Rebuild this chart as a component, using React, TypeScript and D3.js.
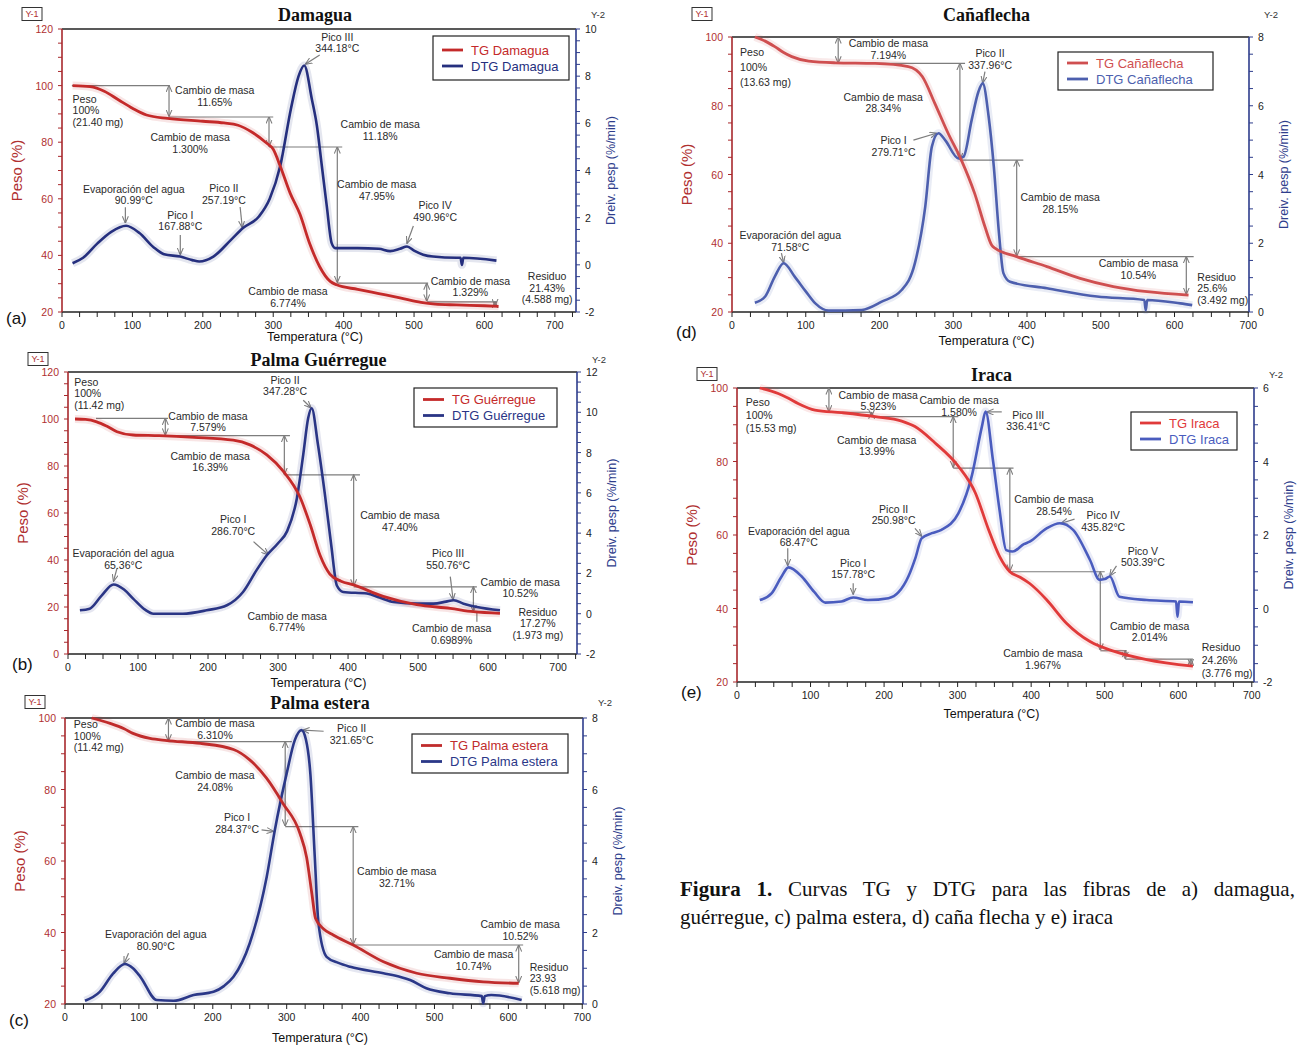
import * as d3 from "d3";

type Pt = [number, number];
type Seg = [number, number, number, number];
type Dim = [number, number, number];
type Note = { t: number; w: number; text: string[]; anchor?: "start" | "middle"; lh?: number };

// ---------- a) Damagua ----------
const damaguaTG: Pt[] = [
  [15, 100], [40, 99.6], [60, 98], [80, 95], [100, 92], [120, 89.6], [150, 88.4], [200, 87.4],
  [230, 86.8], [250, 86], [270, 83.5], [290, 79.8], [300, 77.5], [310, 71.5], [324, 62], [338, 54.5],
  [352, 44], [366, 36], [381, 30.8], [390, 29.6], [420, 28], [450, 26.5], [480, 25], [510, 23.4],
  [530, 22.8], [560, 22.5], [600, 22.2], [620, 22],
];
const damaguaDTG: Pt[] = [
  [15, 0.07], [30, 0.3], [50, 0.9], [70, 1.4], [91, 1.66], [110, 1.35], [130, 0.75], [145, 0.45],
  [168, 0.35], [185, 0.2], [195, 0.14], [215, 0.35], [240, 1.06], [257, 1.56], [280, 2.06], [295, 2.8],
  [310, 4.2], [325, 6.6], [336, 8.0], [344, 8.45], [355, 7.0], [362, 5.9], [369, 4.2], [376, 2.5],
  [383, 0.92], [388, 0.71], [420, 0.71], [450, 0.68], [466, 0.58], [480, 0.68], [490, 0.78], [500, 0.6],
  [513, 0.43], [527, 0.35], [560, 0.3], [566, 0.3], [568, 0.0], [570, 0.3], [617, 0.18],
];
const damaguaGuides: Seg[] = [
  [14, 100, 153, 100], [152, 88.9, 300, 88.9], [294, 78.3, 398, 78.3], [391, 30.2, 520, 30.2], [518, 23.6, 618, 23.6],
];
const damaguaDims: Dim[] = [[152, 100, 89.2], [294, 88.9, 78.6], [391, 78.3, 30.5], [518, 30.2, 23.9], [615, 23.6, 22.3]];
const damaguaPointers: Seg[] = [
  [90, 57, 90, 51.5], [168, 47.2, 168, 40.3], [253, 57.1, 256, 49.9], [366, 110.8, 346, 107.6], [499, 50.4, 490, 44.3],
];
const damaguaNotes: Note[] = [
  { t: 15, w: 95.3, text: ["Peso", "100%", "(21.40 mg)"], anchor: "start" },
  { t: 217, w: 98.4, text: ["Cambio de masa", "11.65%"] },
  { t: 182, w: 81.8, text: ["Cambio de masa", "1.300%"] },
  { t: 102, w: 63.5, text: ["Evaporación del agua", "90.99°C"] },
  { t: 168, w: 54.3, text: ["Pico I", "167.88°C"] },
  { t: 230, w: 63.8, text: ["Pico II", "257.19°C"] },
  { t: 391, w: 117.2, text: ["Pico III", "344.18°C"] },
  { t: 452, w: 86.4, text: ["Cambio de masa", "11.18%"] },
  { t: 447, w: 65.2, text: ["Cambio de masa", "47.95%"] },
  { t: 530, w: 57.8, text: ["Pico IV", "490.96°C"] },
  { t: 580, w: 31, text: ["Cambio de masa", "1.329%"] },
  { t: 689, w: 32.7, text: ["Residuo", "21.43%", "(4.588 mg)"] },
  { t: 321, w: 27.4, text: ["Cambio de masa", "6.774%"] },
];

// ---------- b) Palma Guérregue ----------
const guerregueTG: Pt[] = [
  [10, 100], [25, 99.8], [41, 98.8], [55, 97], [70, 94.6], [93, 93.2], [130, 92.9], [180, 92.2],
  [236, 91], [260, 89], [284, 84.7], [308, 77.6], [331, 67], [346, 55], [360, 42], [374, 34],
  [390, 31], [408, 29.4], [450, 24.5], [498, 21], [546, 19.4], [579, 18], [617, 17.3],
];
const guerregueDTG: Pt[] = [
  [17, 0.17], [31, 0.25], [48, 0.9], [65, 1.45], [80, 1.2], [93, 0.75], [110, 0.2], [122, 0],
  [164, 0], [198, 0.17], [227, 0.42], [250, 1.08], [270, 2.2], [284, 2.9], [300, 3.5], [313, 4.1],
  [327, 5.75], [336, 7.9], [343, 9.7], [348, 10.2], [357, 8.4], [367, 5.9], [376, 3.4], [384, 1.4],
  [393, 1.08], [427, 1.0], [445, 0.8], [465, 0.58], [500, 0.5], [522, 0.5], [540, 0.6], [551, 0.67],
  [565, 0.5], [584, 0.33], [617, 0.17],
];
const guerregueGuides: Seg[] = [
  [40, 100.3, 143, 100.3], [139, 92.9, 317, 92.9], [309, 76.2, 417, 76.2], [408, 28.6, 584, 28.6], [584, 18, 584, 13.7],
];
const guerregueDims: Dim[] = [[139, 100.3, 93.2], [309, 92.9, 76.5], [408, 76.2, 29], [579, 28.6, 18.2]];
const guerreguePointers: Seg[] = [[70, 36.5, 65, 31], [265, 47.8, 286, 42.3], [336, 108, 347, 104.8], [546, 32.9, 550, 23.2]];
const guerregueNotes: Note[] = [
  { t: 9, w: 115.9, text: ["Peso", "100%", "(11.42 mg)"], anchor: "start" },
  { t: 200, w: 101.4, text: ["Cambio de masa", "7.579%"] },
  { t: 203, w: 84.4, text: ["Cambio de masa", "16.39%"] },
  { t: 79, w: 42.8, text: ["Evaporación del agua", "65.36°C"] },
  { t: 236, w: 57.4, text: ["Pico I", "286.70°C"] },
  { t: 310, w: 116.6, text: ["Pico II", "347.28°C"] },
  { t: 474, w: 59.1, text: ["Cambio de masa", "47.40%"] },
  { t: 543, w: 42.8, text: ["Pico III", "550.76°C"] },
  { t: 646, w: 30.8, text: ["Cambio de masa", "10.52%"] },
  { t: 671, w: 18, text: ["Residuo", "17.27%", "(1.973 mg)"] },
  { t: 548, w: 10.9, text: ["Cambio de masa", "0.6989%"] },
  { t: 313, w: 16.3, text: ["Cambio de masa", "6.774%"] },
];

// ---------- c) Palma estera ----------
const esteraTG: Pt[] = [
  [36, 100], [61, 98.5], [80, 97], [92, 95.7], [115, 94.3], [138, 93.7], [183, 92.9], [228, 91.2],
  [250, 88.3], [273, 83.1], [295, 76.1], [318, 67.7], [327, 61], [334, 51], [339, 44], [350, 41],
  [363, 39.3], [390, 36.5], [431, 31.8], [476, 28.6], [521, 27.2], [566, 26.2], [614, 25.8],
];
const esteraDTG: Pt[] = [
  [27, 0.09], [47, 0.34], [65, 0.85], [81, 1.12], [92, 1.0], [102, 0.76], [124, 0.11], [147, 0.09],
  [174, 0.25], [201, 0.34], [215, 0.5], [228, 0.76], [250, 1.7], [273, 3.56], [284, 4.87], [300, 6.45],
  [311, 7.38], [320, 7.66], [326, 7.4], [332, 6.45], [338, 4.12], [343, 2.26], [354, 1.32], [370, 1.15],
  [386, 1.04], [431, 0.86], [455, 0.75], [467, 0.67], [489, 0.44], [521, 0.3], [564, 0.22], [566, 0.02],
  [568, 0.22], [577, 0.25], [618, 0.11],
];
const esteraGuides: Seg[] = [[140, 93.4, 307, 93.4], [298, 69.6, 397, 69.6], [390, 36.5, 620, 36.5]];
const esteraDims: Dim[] = [[140, 100, 93.6], [298, 93.4, 69.8], [390, 69.6, 36.7], [614, 36.5, 26]];
const esteraPointers: Seg[] = [[86, 34.2, 80, 31.4], [266, 68.7, 282, 68.3], [350, 96.3, 322, 96.6]];
const esteraNotes: Note[] = [
  { t: 12, w: 98.3, text: ["Peso", "100%", "(11.42 mg)"], anchor: "start" },
  { t: 203, w: 98.5, text: ["Cambio de masa", "6.310%"] },
  { t: 203, w: 84, text: ["Cambio de masa", "24.08%"] },
  { t: 233, w: 72.2, text: ["Pico I", "284.37°C"] },
  { t: 123, w: 39.5, text: ["Evaporación del agua", "80.90°C"] },
  { t: 388, w: 97.1, text: ["Pico II", "321.65°C"] },
  { t: 449, w: 57.2, text: ["Cambio de masa", "32.71%"] },
  { t: 616, w: 42.3, text: ["Cambio de masa", "10.52%"] },
  { t: 553, w: 33.9, text: ["Cambio de masa", "10.74%"] },
  { t: 629, w: 30.4, text: ["Residuo", "23.93", "(5.618 mg)"], anchor: "start" },
];

// ---------- d) Cañaflecha ----------
const canaTG: Pt[] = [
  [31, 100], [45, 98.8], [58, 97.2], [70, 95.5], [81, 94.3], [104, 93], [140, 92.5], [194, 92.3],
  [239, 91.4], [258, 88.5], [275, 80.7], [293, 72], [311, 64.2], [329, 54.5], [343, 44.8], [352, 39.5],
  [357, 38.5], [386, 36.1], [427, 33.2], [472, 29.8], [517, 27.4], [563, 25.9], [619, 24.9],
];
const canaDTG: Pt[] = [
  [31, 0.27], [45, 0.45], [58, 1.03], [70, 1.42], [85, 1.03], [100, 0.6], [113, 0.25], [131, 0.04],
  [176, 0.06], [203, 0.3], [230, 0.64], [248, 1.42], [262, 3.06], [271, 4.81], [280, 5.2], [289, 5.0],
  [307, 4.47], [314, 4.52], [325, 5.59], [334, 6.4], [340, 6.65], [348, 5.68], [355, 4.23], [362, 2.29],
  [368, 1.13], [377, 0.88], [427, 0.69], [495, 0.45], [559, 0.35], [561, 0.05], [563, 0.35], [608, 0.25],
  [624, 0.2],
];
const canaGuides: Seg[] = [[144, 92.3, 316, 92.3], [309, 64.2, 395, 64.2], [386, 36.1, 626, 36.1]];
const canaDims: Dim[] = [[144, 100, 92.5], [309, 92.3, 64.4], [386, 64.2, 36.3], [616, 36.1, 25.2]];
const canaPointers: Seg[] = [[67, 37.1, 70, 34.4], [246, 70, 277, 72], [343, 89.9, 340, 86.7]];
const canaNotes: Note[] = [
  { t: 11, w: 95.7, text: ["Peso", "100%", "(13.63 mg)"], anchor: "start", lh: 15 },
  { t: 212, w: 98.2, text: ["Cambio de masa", "7.194%"] },
  { t: 205, w: 82.6, text: ["Cambio de masa", "28.34%"] },
  { t: 219, w: 70, text: ["Pico I", "279.71°C"] },
  { t: 79, w: 42.4, text: ["Evaporación del agua", "71.58°C"] },
  { t: 350, w: 95.3, text: ["Pico II", "337.96°C"] },
  { t: 445, w: 53.4, text: ["Cambio de masa", "28.15%"] },
  { t: 551, w: 34.2, text: ["Cambio de masa", "10.54%"] },
  { t: 631, w: 30.3, text: ["Residuo", "25.6%", "(3.492 mg)"], anchor: "start" },
];

// ---------- e) Iraca ----------
const iracaTG: Pt[] = [
  [31, 100], [56, 98.5], [70, 97.2], [83, 95.8], [106, 94], [142, 93.3], [188, 92.2], [224, 91],
  [242, 89.5], [269, 85.1], [301, 78.7], [324, 71.5], [342, 61.5], [357, 54.2], [371, 50], [385, 48.5],
  [398, 46.8], [421, 42.4], [448, 36], [480, 31], [512, 28.4], [557, 26.1], [620, 24.3],
];
const iracaDTG: Pt[] = [
  [31, 0.23], [47, 0.41], [60, 0.85], [70, 1.12], [88, 0.87], [105, 0.45], [120, 0.16], [142, 0.19],
  [158, 0.3], [178, 0.23], [206, 0.28], [220, 0.45], [233, 0.87], [243, 1.4], [251, 1.91], [265, 2.05],
  [278, 2.14], [301, 2.59], [319, 3.59], [333, 4.95], [338, 5.36], [348, 4.04], [357, 2.68], [366, 1.59],
  [375, 1.55], [390, 1.75], [398, 1.82], [421, 2.18], [439, 2.32], [457, 2.14], [480, 1.32], [493, 0.78],
  [500, 0.8], [507, 0.87], [520, 0.32], [557, 0.23], [597, 0.19], [599, -0.22], [601, 0.19], [620, 0.17],
];
const iracaGuides: Seg[] = [
  [31, 100, 126, 100], [125, 93.4, 183, 93.4], [183, 92.2, 301, 92.2], [294, 78.2, 376, 78.2],
  [371, 50, 500, 50], [494, 28.5, 530, 28.5], [528, 26.2, 620, 26.2],
];
const iracaDims: Dim[] = [
  [125, 100, 93.6], [183, 93.4, 92.4], [294, 92.2, 78.4], [371, 78.2, 50.2], [494, 50, 28.7], [528, 28.5, 26.4], [617, 26.2, 24.6],
];
const iracaPointers: Seg[] = [
  [69, 56.4, 69, 51.7], [158, 46.9, 158, 43.9], [242, 61.8, 251, 59.7], [360, 93.5, 340, 93.5],
  [459, 64.3, 441, 63.2], [516, 51.6, 507, 48.9],
];
const iracaNotes: Note[] = [
  { t: 12, w: 96.3, text: ["Peso", "100%", "(15.53 mg)"], anchor: "start", lh: 13 },
  { t: 192, w: 98.1, text: ["Cambio de masa", "5.923%"] },
  { t: 302, w: 96.7, text: ["Cambio de masa", "1.580%"] },
  { t: 190, w: 85.9, text: ["Cambio de masa", "13.99%"] },
  { t: 84, w: 61.2, text: ["Evaporación del agua", "68.47°C"] },
  { t: 158, w: 52.5, text: ["Pico I", "157.78°C"] },
  { t: 213, w: 67.2, text: ["Pico II", "250.98°C"] },
  { t: 396, w: 92.7, text: ["Pico III", "336.41°C"] },
  { t: 431, w: 69.7, text: ["Cambio de masa", "28.54%"] },
  { t: 498, w: 65.4, text: ["Pico IV", "435.82°C"] },
  { t: 552, w: 55.7, text: ["Pico V", "503.39°C"] },
  { t: 561, w: 35.3, text: ["Cambio de masa", "2.014%"] },
  { t: 416, w: 27.8, text: ["Cambio de masa", "1.967%"] },
  { t: 632, w: 29.4, text: ["Residuo", "24.26%", "(3.776 mg)"], anchor: "start", lh: 13 },
];

const xTickValues = [0, 100, 200, 300, 400, 500, 600, 700];
const captionLines = [
  "Curvas TG y DTG para las fibras de a) damagua, b) palma",
  "guérregue, c) palma estera, d) caña flecha y e) iraca",
];

type PanelCfg = {
  title: string; letter: string; names: [string, string];
  left: number; right: number; top: number; bottom: number; xMax: number;
  wDom: [number, number]; dDom: [number, number];
  titleY: number; letterY: number; xLabelY: number; legend: [number, number, number, number];
  tgColor: string; dtgColor: string;
  tg: Pt[]; dtg: Pt[]; guides: Seg[]; dims: Dim[]; pointers: Seg[]; notes: Note[];
};

const panels: PanelCfg[] = [
  {
    title: "Damagua", letter: "(a)", names: ["TG Damagua", "DTG Damagua"],
    left: 62, right: 576, top: 29, bottom: 312, xMax: 730, wDom: [20, 120], dDom: [-2, 10],
    titleY: 15, letterY: 318, xLabelY: 337, legend: [433, 36, 136, 44],
    tgColor: "#c42a2a", dtgColor: "#252f7e",
    tg: damaguaTG, dtg: damaguaDTG, guides: damaguaGuides, dims: damaguaDims, pointers: damaguaPointers, notes: damaguaNotes,
  },
  {
    title: "Palma Guérregue", letter: "(b)", names: ["TG Guérregue", "DTG Guérregue"],
    left: 68, right: 577, top: 372, bottom: 654, xMax: 727, wDom: [0, 120], dDom: [-2, 12],
    titleY: 360, letterY: 664, xLabelY: 683, legend: [414, 388, 143, 39],
    tgColor: "#c42a2a", dtgColor: "#2a3585",
    tg: guerregueTG, dtg: guerregueDTG, guides: guerregueGuides, dims: guerregueDims, pointers: guerreguePointers, notes: guerregueNotes,
  },
  {
    title: "Palma estera", letter: "(c)", names: ["TG Palma estera", "DTG Palma estera"],
    left: 65, right: 583, top: 718, bottom: 1004, xMax: 701, wDom: [20, 100], dDom: [0, 8],
    titleY: 703, letterY: 1020, xLabelY: 1038, legend: [412, 734, 156, 39],
    tgColor: "#c02c2c", dtgColor: "#2b3888",
    tg: esteraTG, dtg: esteraDTG, guides: esteraGuides, dims: esteraDims, pointers: esteraPointers, notes: esteraNotes,
  },
  {
    title: "Cañaflecha", letter: "(d)", names: ["TG Cañaflecha", "DTG Cañaflecha"],
    left: 732, right: 1249, top: 37, bottom: 312, xMax: 701, wDom: [20, 100], dDom: [0, 8],
    titleY: 15, letterY: 332, xLabelY: 341, legend: [1058, 52, 155, 38],
    tgColor: "#cf4f50", dtgColor: "#4d5fae",
    tg: canaTG, dtg: canaDTG, guides: canaGuides, dims: canaDims, pointers: canaPointers, notes: canaNotes,
  },
  {
    title: "Iraca", letter: "(e)", names: ["TG Iraca", "DTG Iraca"],
    left: 737, right: 1254, top: 388, bottom: 682, xMax: 703, wDom: [20, 100], dDom: [-2, 6],
    titleY: 375, letterY: 692, xLabelY: 714, legend: [1131, 412, 106, 38],
    tgColor: "#e03a3a", dtgColor: "#4a5cbe",
    tg: iracaTG, dtg: iracaDTG, guides: iracaGuides, dims: iracaDims, pointers: iracaPointers, notes: iracaNotes,
  },
];

const SANS = "'Liberation Sans', Arial, Helvetica, sans-serif";
const SERIF = "'Liberation Serif', 'Times New Roman', serif";
const LEFT_AXIS = "#a8282c";
const RIGHT_AXIS = "#2e3d8c";
const GREY = "#7d7d7d";

function Panel({ p }: { p: PanelCfg }) {
  const x = d3.scaleLinear().domain([0, p.xMax]).range([p.left, p.right]);
  const yW = d3.scaleLinear().domain(p.wDom).range([p.bottom, p.top]);
  const yD = d3.scaleLinear().domain(p.dDom).range([p.bottom, p.top]);
  const tgPath = d3.line<Pt>().x(d => x(d[0])).y(d => yW(d[1])).curve(d3.curveMonotoneX)(p.tg) || "";
  const dtgPath = d3.line<Pt>().x(d => x(d[0])).y(d => yD(d[1])).curve(d3.curveMonotoneX)(p.dtg) || "";
  const cx = (p.left + p.right) / 2;
  const cy = (p.top + p.bottom) / 2;

  const xMinor = d3.range(0, p.xMax + 0.01, 25);
  const wMajor = d3.range(p.wDom[0], p.wDom[1] + 0.01, 20);
  const wMinor = d3.range(p.wDom[0], p.wDom[1] + 0.01, 5);
  const dMajor = d3.range(p.dDom[0], p.dDom[1] + 0.01, 2);
  const dMinor = d3.range(p.dDom[0], p.dDom[1] + 0.01, 0.5);
  const [lx, ly, lw, lh] = p.legend;

  return (
    <g>
      {/* header */}
      <text x={cx - 4} y={p.titleY} textAnchor="middle" dominantBaseline="central"
        fontFamily={SERIF} fontWeight="bold" fontSize={18} fill="#111">{p.title}</text>
      <rect x={p.left - 40} y={p.titleY - 7.5} width={20} height={13} fill="none" stroke="#333" strokeWidth={1} />
      <text x={p.left - 30} y={p.titleY - 1} textAnchor="middle" dominantBaseline="central"
        fontFamily={SANS} fontSize={9} fill="#b03030">Y-1</text>
      <text x={p.right + 22} y={p.titleY - 1} textAnchor="middle" dominantBaseline="central"
        fontFamily={SANS} fontSize={9.5} fill="#333">Y-2</text>

      {/* axis titles */}
      <text transform={`translate(${p.left - 46},${cy}) rotate(-90)`} textAnchor="middle" dominantBaseline="central"
        fontFamily={SANS} fontSize={15} fill="#b03030">Peso (%)</text>
      <text transform={`translate(${p.right + 35},${cy}) rotate(-90)`} textAnchor="middle" dominantBaseline="central"
        fontFamily={SANS} fontSize={12.5} fill={RIGHT_AXIS}>Dreiv. pesp (%/min)</text>
      <text x={cx - 4} y={p.xLabelY} textAnchor="middle" dominantBaseline="central"
        fontFamily={SANS} fontSize={12.5} fill="#111">Temperatura (°C)</text>
      <text x={p.left - 56} y={p.letterY} dominantBaseline="central" fontFamily={SANS} fontSize={17} fill="#111">{p.letter}</text>

      {/* frame */}
      <line x1={p.left} x2={p.right} y1={p.top} y2={p.top} stroke="#222" strokeWidth={1.3} />
      <line x1={p.left} x2={p.right} y1={p.bottom} y2={p.bottom} stroke="#222" strokeWidth={1.5} />
      <line x1={p.left} x2={p.left} y1={p.top} y2={p.bottom} stroke={LEFT_AXIS} strokeWidth={1.6} />
      <line x1={p.right} x2={p.right} y1={p.top} y2={p.bottom} stroke={RIGHT_AXIS} strokeWidth={1.6} />

      {/* x ticks */}
      {xMinor.map(v => (
        <line key={"xm" + v} x1={x(v)} x2={x(v)} y1={p.bottom} y2={p.bottom + 5} stroke="#222" strokeWidth={1} />
      ))}
      {xTickValues.map(v => (
        <text key={"xt" + v} x={x(v)} y={p.bottom + 13} textAnchor="middle" dominantBaseline="central"
          fontFamily={SANS} fontSize={10.5} fill="#222">{v}</text>
      ))}

      {/* left ticks */}
      {wMinor.map(v => (
        <line key={"wm" + v} x1={p.left - 4} x2={p.left} y1={yW(v)} y2={yW(v)} stroke={LEFT_AXIS} strokeWidth={1} />
      ))}
      {wMajor.map(v => (
        <text key={"wt" + v} x={p.left - 9} y={yW(v)} textAnchor="end" dominantBaseline="central"
          fontFamily={SANS} fontSize={10.5} fill="#b03030">{v}</text>
      ))}

      {/* right ticks */}
      {dMinor.map(v => (
        <line key={"dm" + v} x1={p.right} x2={p.right + 4} y1={yD(v)} y2={yD(v)} stroke={RIGHT_AXIS} strokeWidth={1} />
      ))}
      {dMajor.map(v => (
        <text key={"dt" + v} x={p.right + 9} y={yD(v)} dominantBaseline="central"
          fontFamily={SANS} fontSize={10.5} fill="#222">{v}</text>
      ))}

      {/* mass-change guides */}
      {p.guides.map((s, i) => (
        <line key={"g" + i} x1={x(s[0])} y1={yW(s[1])} x2={x(s[2])} y2={yW(s[3])} stroke={GREY} strokeWidth={1.2} />
      ))}
      {p.dims.map((s, i) => (
        <line key={"dim" + i} x1={x(s[0])} y1={yW(s[1])} x2={x(s[0])} y2={yW(s[2])} stroke={GREY} strokeWidth={1.2}
          markerStart="url(#ah)" markerEnd="url(#ah)" />
      ))}
      {p.pointers.map((s, i) => (
        <line key={"pt" + i} x1={x(s[0])} y1={yW(s[1])} x2={x(s[2])} y2={yW(s[3])} stroke={GREY} strokeWidth={1.2}
          markerEnd="url(#ah)" />
      ))}

      {/* curves */}
      <path d={dtgPath} fill="none" stroke={p.dtgColor} strokeOpacity={0.12} strokeWidth={8} strokeLinejoin="round" />
      <path d={tgPath} fill="none" stroke={p.tgColor} strokeOpacity={0.12} strokeWidth={8} strokeLinejoin="round" />
      <path d={dtgPath} fill="none" stroke={p.dtgColor} strokeWidth={2.6} strokeLinejoin="round" />
      <path d={tgPath} fill="none" stroke={p.tgColor} strokeWidth={2.8} strokeLinejoin="round" />

      {/* notes */}
      {p.notes.map((n, i) => {
        const lhgt = n.lh || 11.5;
        return (
          <text key={"n" + i} x={x(n.t)} y={yW(n.w)} textAnchor={n.anchor || "middle"}
            fontFamily={SANS} fontSize={10.5} fill="#2a2a2a">
            {n.text.map((s, j) => (
              <tspan key={j} x={x(n.t)} y={yW(n.w) + j * lhgt} dominantBaseline="central">{s}</tspan>
            ))}
          </text>
        );
      })}

      {/* legend */}
      <rect x={lx} y={ly} width={lw} height={lh} fill="#fff" stroke="#222" strokeWidth={1.2} />
      <line x1={lx + 9} x2={lx + 30} y1={ly + lh / 2 - 8} y2={ly + lh / 2 - 8} stroke={p.tgColor} strokeWidth={2.8} />
      <line x1={lx + 9} x2={lx + 30} y1={ly + lh / 2 + 8} y2={ly + lh / 2 + 8} stroke={p.dtgColor} strokeWidth={2.8} />
      <text x={lx + 38} y={ly + lh / 2 - 8} dominantBaseline="central" fontFamily={SANS} fontSize={13} fill={p.tgColor}>{p.names[0]}</text>
      <text x={lx + 38} y={ly + lh / 2 + 8} dominantBaseline="central" fontFamily={SANS} fontSize={13} fill={p.dtgColor}>{p.names[1]}</text>
    </g>
  );
}

export default function App() {
  return (
    <svg width={1298} height={1048} style={{ position: "absolute", left: 0, top: 0, background: "#fff" }}>
      <defs>
        <marker id="ah" viewBox="0 0 8 8" refX={7.5} refY={4} markerWidth={7} markerHeight={7}
          orient="auto-start-reverse" markerUnits="userSpaceOnUse">
          <path d="M0,0.6 L8,4 L0,7.4" fill="none" stroke={GREY} strokeWidth={1.2} />
        </marker>
      </defs>
      <rect width={1298} height={1048} fill="#fff" />
      {panels.map(p => <Panel key={p.letter} p={p} />)}
      {/* caption: justified first line runs past the page edge, as in the source */}
      <text x={680} y={896} fontFamily={SERIF} fontSize={21} fill="#111" wordSpacing={10.5}>
        <tspan fontWeight="bold">Figura 1.</tspan> {captionLines[0]}
      </text>
      <text x={680} y={924} fontFamily={SERIF} fontSize={21} fill="#111">
        {captionLines[1]}
      </text>
    </svg>
  );
}
